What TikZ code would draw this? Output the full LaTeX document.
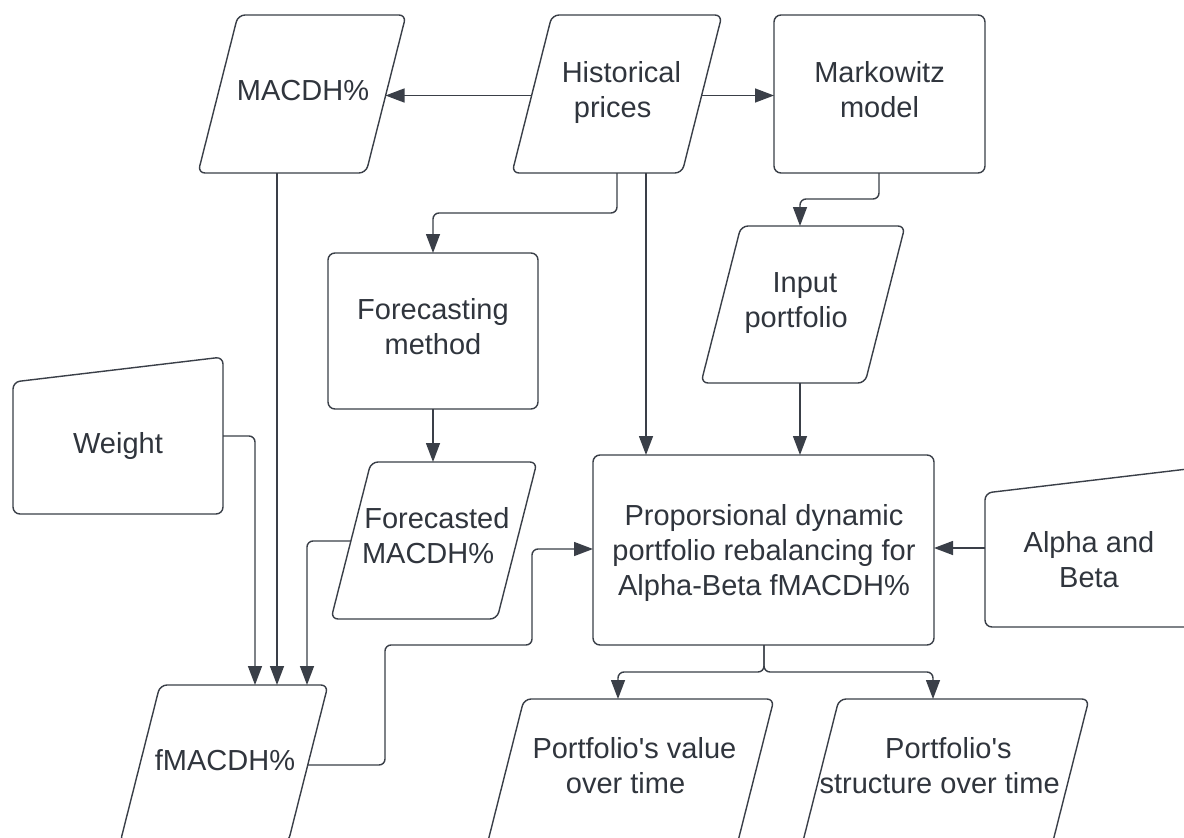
\documentclass[tikz,border=0pt]{standalone}
\usepackage{fontspec}
\setmainfont{Liberation Sans}[Ligatures=TeXOff]
\usetikzlibrary{arrows.meta}
\definecolor{ink}{RGB}{58,63,72}
\definecolor{txt}{RGB}{48,53,61}
\tikzset{
  box/.style={draw=ink, line width=1.4pt, rounded corners=7pt},
  lbl/.style={inner sep=0pt, align=center, text=txt, font=\fontsize{29}{35}\selectfont},
  conn/.style={draw=ink, line width=1.4pt, rounded corners=6pt},
  arr/.style={conn, -{Triangle[length=19pt,width=14pt]}},
}
\newcommand\para[5]{% topleft x, top y, width, height, slant
  \draw[box] (#1,#2) -- ++(#3,0) -- ++(-#5,#4) -- ++(-#3,0) -- cycle;}
\newcommand\twol[2]{\strut#1\\\strut#2}
\newcommand\slantl[2]{\hspace*{8.8pt}\strut#1\\\strut#2\hspace*{8.8pt}}
\begin{document}
\begin{tikzpicture}[x=1pt,y=-1pt]
\useasboundingbox (0,0) rectangle (1184,838);
\fill[white] (0,0) rectangle (1184,838);
\begin{scope}
\clip (0,0) rectangle (1184,838);
% shapes
\para{238}{15}{168}{158}{40}
\para{552}{15}{170}{158}{40}
\draw[box] (774,15) rectangle (985,173);
\para{741}{226}{164}{157}{40}
\draw[box] (328,253) rectangle (538,409);
\para{371}{462}{166}{157}{40}
\draw[box] (13,382) -- (223,357) -- (223,514) -- (13,514) -- cycle;
\para{160}{685}{168}{158}{40}
\draw[box] (593,455) rectangle (934,645);
\draw[box] (985,493) -- (1196,468) -- (1196,627) -- (985,627) -- cycle;
\para{524}{699}{250}{158}{40}
\para{839}{699}{250}{158}{40}

% labels
\node[lbl] (tmacd) at (303,93.5) {\strut MACDH\%};
\node[lbl] (thist) at (617,93) {\slantl{Historical}{prices}};
\node[lbl] (tmark) at (879.5,93) {\twol{Markowitz}{model}};
\node[lbl] (tinp) at (800.5,303) {\slantl{Input}{portfolio}};
\node[lbl] (tfmeth) at (433,330) {\twol{Forecasting}{method}};
\node[lbl] (tfcd) at (432.5,538.5) {\slantl{Forecasted}{MACDH\%}};
\node[lbl] (tw) at (118,446.5) {\strut Weight};
\node[lbl] (tfm) at (225,763.5) {\strut fMACDH\%};
\node[lbl] (tprop) at (764,553.5) {\strut Proporsional dynamic\\\strut portfolio rebalancing for\\\strut Alpha-Beta fMACDH\%};
\node[lbl] (talpha) at (1089,563) {\twol{Alpha and}{Beta}};
\node[lbl] (tval) at (630,768.5) {\slantl{Portfolio's value}{over time}};
\node[lbl] (tstr) at (944,768.5) {\slantl{Portfolio's}{structure over time}};

% connector end points
\coordinate (histW) at (531.5,95.5);
\coordinate (macdE) at (385.5,95.5);
\coordinate (histE) at (701.5,95.5);
\coordinate (markW) at (774,95.5);
\coordinate (histS1) at (617,173);
\coordinate (fmethN) at (433,253);
\coordinate (histS2) at (646,173);
\coordinate (propN1) at (646,455);
\coordinate (markS) at (879,173);
\coordinate (inpN) at (800,226);
\coordinate (inpS) at (800,383);
\coordinate (propN2) at (800,455);
\coordinate (fmethS) at (433,409);
\coordinate (fcdN) at (433,462);
\coordinate (wE) at (223,436);
\coordinate (fmN1) at (255,685);
\coordinate (macdS) at (277,173);
\coordinate (fmN2) at (277,685);
\coordinate (fcdW) at (351,541);
\coordinate (fmN3) at (307,685);
\coordinate (fmE) at (308,765);
\coordinate (propW) at (593,549);
\coordinate (alphaW) at (985,548);
\coordinate (propE) at (934,548);
\coordinate (propS) at (764,645);
\coordinate (valN) at (618,699);
\coordinate (strN) at (933,699);

% connectors
\draw[arr] (histW) -- (macdE);
\draw[arr] (histE) -- (markW);
\draw[arr] (histS1) -- (617,213) -- (433,213) -- (fmethN);
\draw[arr] (histS2) -- (propN1);
\draw[arr] (markS) -- (879,199) -- (800,199) -- (inpN);
\draw[arr] (inpS) -- (propN2);
\draw[arr] (fmethS) -- (fcdN);
\draw[arr] (wE) -| (fmN1);
\draw[arr] (macdS) -- (fmN2);
\draw[arr] (fcdW) -| (fmN3);
\draw[arr] (fmE) -- (385,765) -- (385,645) -- (532,645) -- (532,549) -- (propW);
\draw[arr] (alphaW) -- (propE);
\draw[arr] (propS) -- (764,672) -- (618,672) -- (valN);
\draw[arr] (propS) -- (764,672) -- (933,672) -- (strN);
\end{scope}
\end{tikzpicture}
\end{document}
